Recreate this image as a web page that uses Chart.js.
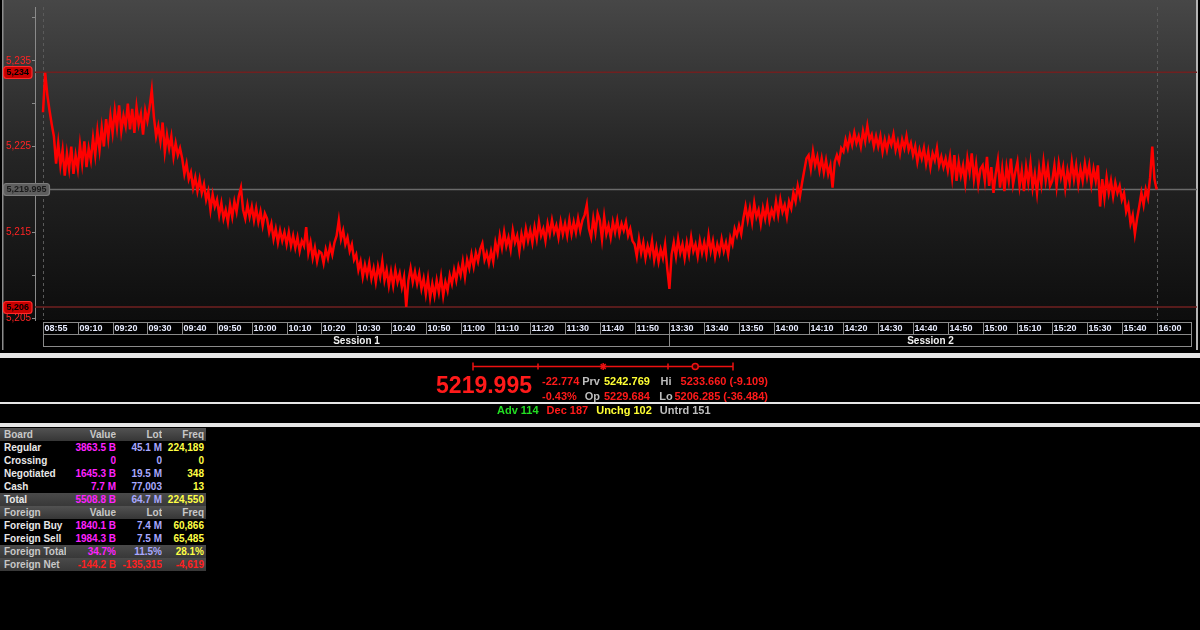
<!DOCTYPE html>
<html>
<head>
<meta charset="utf-8">
<script src="https://cdn.jsdelivr.net/npm/chart.js@4.4.0/dist/chart.umd.min.js"></script>
<style>
  body { margin: 0; background: #000; }
  #wrap { position: relative; width: 1200px; height: 630px; overflow: hidden; background: #000;
          font-family: 'Liberation Sans', Arial, sans-serif; font-weight: bold; }
  #wrap > * { position: absolute; }
  .band { left: 0; width: 1200px; background: #e6e6e6; }
  .txt { font-size: 11px; line-height: 13px; white-space: nowrap; }
  .r { text-align: right; }
  .c { text-align: center; }
  .red { color: #ff1a1a; }
  .grey { color: #bdbdbd; }
  .yel { color: #ffff33; }
  #board { left: 0; top: 428px; width: 206px; border-collapse: collapse; table-layout: fixed;
           font: bold 10px 'Liberation Sans', Arial, sans-serif; }
  #board td { height: 13px; padding: 0; line-height: 13px; white-space: nowrap; overflow: hidden; }
  #board td.lbl { padding-left: 4px; color: #e8e8e8; }
  #board td.num { text-align: right; }
  #board td.last { padding-right: 2px; }
  #board tr.hdr { background: linear-gradient(#525252, #363636); }
  #board tr.hdr td { color: #c8c8c8; }
  #board tr.sum { background: linear-gradient(#4a4a4a, #383838); }
  #board tr.sum2 td.lbl { color: #c8c8c8; }
  .cv { color: #ff22ff; }
  .cl { color: #a8a8ff; }
  .cf { color: #ffff44; }
  .cn { color: #ff2020; }
</style>
</head>
<body>
<div id="wrap">
  <canvas id="chart" width="1200" height="352" style="left:0;top:0"></canvas>
  <div class="band" style="top:353px;height:5px"></div>
  <canvas id="range" width="1200" height="18" style="left:0;top:358px"></canvas>

  <div id="last" class="red" style="left:400px;width:132px;top:374px;font-size:23px;line-height:23px;text-align:right"></div>
  <div id="chg" class="txt red" style="left:542px;top:375px"></div>
  <div id="chgPct" class="txt red" style="left:542px;top:390px"></div>
  <div class="txt grey r" style="left:570px;width:30px;top:375px">Prv</div>
  <div class="txt grey r" style="left:570px;width:30px;top:390px">Op</div>
  <div id="prv" class="txt yel" style="left:604px;top:375px"></div>
  <div id="opn" class="txt red" style="left:604px;top:390px"></div>
  <div class="txt grey c" style="left:652px;width:28px;top:375px">Hi</div>
  <div class="txt grey c" style="left:652px;width:28px;top:390px">Lo</div>
  <div id="hi" class="txt red r" style="left:660px;width:108px;top:375px"></div>
  <div id="lo" class="txt red r" style="left:660px;width:108px;top:390px"></div>

  <div class="band" style="top:402px;height:1.5px"></div>
  <div id="breadth" class="txt" style="left:497px;top:404px"></div>
  <div class="band" style="top:423px;height:4px"></div>

  <table id="board">
    <colgroup><col style="width:66px"><col style="width:50px"><col style="width:46px"><col style="width:44px"></colgroup>
    <tbody id="boardBody"></tbody>
  </table>
</div>

<script>
// axis labels
const timeLabels = ['08:55', '09:10', '09:20', '09:30', '09:40', '09:50', '10:00', '10:10', '10:20',
  '10:30', '10:40', '10:50', '11:00', '11:10', '11:20', '11:30', '11:40', '11:50',
  '13:30', '13:40', '13:50', '14:00', '14:10', '14:20', '14:30', '14:40', '14:50',
  '15:00', '15:10', '15:20', '15:30', '15:40', '16:00'];
const sessionNames = ['Session 1', 'Session 2'];
const sessionStart = [0, 18];
const sessionEnd = [18, 33];
const yTickValues = [5205, 5210, 5215, 5220, 5225, 5230, 5235, 5240];
const yTickLabels = ['5,205', '', '5,215', '', '5,225', '', '5,235', ''];

// index readings, 16 per label slot
const samplesPerSlot = 16;
const session1Values = [
  5229.0, 5233.6, 5231.0, 5229.2, 5227.6, 5226.2, 5223.0, 5225.4, 5222.8, 5224.6, 5221.6, 5224.2, 5222.4, 5225.0, 5221.8, 5224.0,
  5222.4, 5225.2, 5223.0, 5225.6, 5222.6, 5224.8, 5223.4, 5226.0, 5224.0, 5226.8, 5224.6, 5227.2, 5225.0, 5228.2, 5226.0, 5228.6,
  5226.6, 5229.2, 5227.2, 5229.8, 5226.8, 5228.6, 5227.4, 5230.0, 5227.0, 5229.4, 5226.6, 5229.6, 5227.6, 5228.8, 5226.4, 5229.2,
  5228.0, 5229.6, 5231.6, 5228.4, 5226.2, 5227.4, 5225.6, 5227.8, 5224.4, 5226.4, 5224.8, 5226.2, 5223.8, 5225.4, 5224.0, 5224.8,
  5223.6, 5221.8, 5223.0, 5221.2, 5222.0, 5220.2, 5221.4, 5219.8, 5221.2, 5219.6, 5220.6, 5218.8, 5219.8, 5217.6, 5219.4, 5218.0,
  5218.8, 5217.0, 5218.4, 5216.6, 5217.6, 5216.2, 5218.2, 5216.8, 5218.6, 5217.4, 5219.2, 5220.2, 5217.6, 5216.6, 5218.2, 5216.8,
  5218.0, 5216.4, 5217.8, 5216.2, 5217.4, 5215.8, 5217.2, 5216.6, 5215.0, 5216.0, 5214.2, 5215.4, 5213.8, 5215.2, 5214.0, 5215.0,
  5213.6, 5215.0, 5213.4, 5214.6, 5213.2, 5214.4, 5212.8, 5214.0, 5213.4, 5215.6, 5212.6, 5213.8, 5212.0, 5213.2, 5211.6, 5212.8,
  5212.6, 5211.4, 5213.0, 5212.0, 5213.4, 5212.4, 5213.8, 5214.6, 5216.4, 5214.2, 5215.2, 5213.6, 5214.4, 5212.8, 5213.6, 5211.8,
  5212.4, 5210.6, 5211.6, 5209.8, 5211.2, 5210.0, 5211.4, 5209.6, 5210.8, 5209.2, 5211.0, 5209.8, 5211.6, 5209.4, 5210.6, 5208.8,
  5210.4, 5208.8, 5210.6, 5209.2, 5210.2, 5208.6, 5209.8, 5206.3, 5209.4, 5210.8, 5209.2, 5210.4, 5209.0, 5210.2, 5208.4, 5209.6,
  5207.8, 5209.6, 5207.4, 5209.0, 5207.6, 5209.4, 5208.0, 5209.8, 5207.6, 5209.2, 5208.2, 5210.0, 5209.0, 5210.6, 5209.4, 5211.0,
  5210.0, 5211.6, 5209.8, 5211.8, 5210.8, 5212.4, 5211.0, 5212.6, 5211.6, 5213.0, 5213.7, 5211.8, 5212.6, 5211.4, 5212.8, 5211.6,
  5213.8, 5212.6, 5214.6, 5213.2, 5215.0, 5213.4, 5214.4, 5213.0, 5215.2, 5213.8, 5214.6, 5212.8, 5214.8, 5213.6, 5215.4, 5214.0,
  5215.2, 5213.8, 5215.6, 5214.2, 5216.2, 5214.6, 5215.4, 5214.0, 5216.0, 5214.8, 5216.4, 5215.0, 5215.8, 5214.4, 5216.2, 5214.8,
  5216.0, 5214.6, 5216.4, 5214.8, 5216.2, 5215.0, 5216.6, 5215.2, 5216.4, 5217.0, 5218.2, 5215.4, 5214.4, 5216.6, 5215.0, 5217.2,
  5216.4, 5214.2, 5216.8, 5214.8, 5215.8, 5214.4, 5216.2, 5215.0, 5216.4, 5214.8, 5216.0, 5215.2, 5216.2, 5214.6, 5215.4, 5214.0,
  5213.6, 5212.2, 5214.2, 5212.6, 5213.8, 5212.0, 5213.4, 5212.4, 5214.0, 5211.8, 5213.2, 5211.6, 5213.0, 5212.0, 5213.6, 5210.8
];
const session2Values = [
  5208.4, 5212.4, 5213.8, 5212.2, 5214.2, 5212.6, 5213.6, 5212.0, 5213.8, 5212.4, 5214.4, 5212.8, 5213.6, 5212.2, 5214.0, 5212.6,
  5213.8, 5212.4, 5214.6, 5212.8, 5214.0, 5212.2, 5213.6, 5212.6, 5214.2, 5212.8, 5213.8, 5212.4, 5214.4, 5213.6, 5215.4, 5214.6,
  5215.8, 5214.8, 5216.6, 5218.0, 5216.4, 5217.8, 5216.2, 5218.4, 5216.8, 5217.6, 5216.0, 5217.8, 5216.6, 5218.2, 5216.4, 5217.6,
  5216.8, 5218.6, 5217.0, 5218.8, 5217.4, 5218.2, 5216.8, 5218.6, 5217.8, 5219.6, 5218.6, 5220.4, 5219.2, 5220.8, 5222.2, 5223.6,
  5224.0, 5222.4, 5224.4, 5222.8, 5223.8, 5222.2, 5223.6, 5222.0, 5223.4, 5221.8, 5222.8, 5220.2, 5223.2, 5224.0, 5223.2, 5224.8,
  5224.4, 5225.8, 5224.8, 5226.2, 5225.2, 5226.6, 5225.4, 5226.2, 5225.0, 5226.8, 5225.6, 5227.4, 5225.8, 5226.4, 5225.0, 5226.2,
  5225.0, 5226.2, 5224.4, 5225.8, 5224.6, 5226.0, 5225.2, 5226.4, 5224.6, 5225.6, 5224.2, 5225.8, 5224.8, 5226.2, 5224.6, 5225.4,
  5224.0, 5225.0, 5223.2, 5224.6, 5223.6, 5224.8, 5223.0, 5224.4, 5222.6, 5224.2, 5223.4, 5224.8, 5222.8, 5223.8, 5222.6, 5223.6,
  5222.2, 5223.8, 5221.4, 5224.0, 5221.0, 5223.2, 5221.6, 5222.8, 5220.8, 5223.6, 5222.0, 5224.2, 5221.2, 5223.0, 5220.6, 5222.4,
  5222.8, 5221.0, 5223.8, 5220.4, 5222.6, 5219.6, 5221.8, 5223.4, 5220.2, 5222.4, 5219.8, 5222.6, 5221.0, 5223.6, 5220.6, 5222.0,
  5223.2, 5220.4, 5222.2, 5219.8, 5222.6, 5220.8, 5223.0, 5220.2, 5221.8, 5219.6, 5222.4, 5220.6, 5223.2, 5221.0, 5222.6, 5220.4,
  5221.0, 5222.8, 5220.4, 5223.0, 5221.4, 5222.6, 5220.2, 5222.2, 5220.8, 5223.2, 5221.2, 5222.8, 5220.6, 5222.4, 5221.0, 5223.0,
  5221.4, 5222.8, 5220.6, 5222.4, 5221.0, 5222.8, 5218.0, 5221.2, 5219.0, 5221.4, 5219.6, 5221.0, 5219.2, 5220.8, 5219.6, 5220.4,
  5218.8, 5219.6, 5217.4, 5218.2, 5216.0, 5217.0, 5214.8, 5216.6, 5218.0, 5219.6, 5218.2, 5220.0, 5219.0, 5221.4, 5225.0, 5221.2
];

// summary
const lastPrice = 5219.995;
const prevClose = 5242.769;
const openPrice = 5229.684;
const highPrice = 5233.660;
const lowPrice = 5206.285;
const breadthNames = ['Adv', 'Dec', 'Unchg', 'Untrd'];
const breadthCounts = [114, 187, 102, 151];
const breadthColors = ['#22dd22', '#ff1a1a', '#ffff33', '#bdbdbd'];

// board table
const boardNames = ['Regular', 'Crossing', 'Negotiated', 'Cash'];
const boardValue = ['3863.5 B', '0', '1645.3 B', '7.7 M'];
const boardLot = ['45.1 M', '0', '19.5 M', '77,003'];
const boardFreq = ['224,189', '0', '348', '13'];
const boardTotal = ['5508.8 B', '64.7 M', '224,550'];
const foreignNames = ['Foreign Buy', 'Foreign Sell'];
const foreignValue = ['1840.1 B', '1984.3 B'];
const foreignLot = ['7.4 M', '7.5 M'];
const foreignFreq = ['60,866', '65,485'];
const foreignTotal = ['34.7%', '11.5%', '28.1%'];
const foreignNet = ['-144.2 B', '-135,315', '-4,619'];

const fmt = v => v.toLocaleString('en-US', { minimumFractionDigits: 3, maximumFractionDigits: 3 });
const fmtAxis = v => v.toLocaleString('en-US', { maximumFractionDigits: 0 });

const priceValues = session1Values.concat(session2Values, [lastPrice]);
const points = priceValues.map((v, i) => ({ x: i / samplesPerSlot, y: v }));

const panelPlugin = {
  id: 'panel',
  beforeDraw(chart) {
    const { ctx, chartArea } = chart;
    ctx.save();
    ctx.fillStyle = '#000';
    ctx.fillRect(0, 0, chart.width, chart.height);
    const g = ctx.createLinearGradient(0, 0, 0, chartArea.bottom);
    g.addColorStop(0, '#474747');
    g.addColorStop(0.5, '#242424');
    g.addColorStop(1, '#0d0d0d');
    ctx.fillStyle = g;
    ctx.fillRect(3, 0, 1194, chartArea.bottom);
    ctx.fillStyle = '#8c8c8c';
    ctx.fillRect(2, 0, 1.5, 350);
    ctx.fillStyle = '#b4b4b4';
    ctx.fillRect(1196, 0, 2, 350);
    ctx.restore();
  },
  beforeDatasetsDraw(chart) {
    const { ctx, chartArea, scales: { x, y } } = chart;
    ctx.save();
    ctx.setLineDash([3, 3]);
    ctx.strokeStyle = '#5a5a5a';
    ctx.lineWidth = 1;
    [0, timeLabels.length - 1].forEach(i => {
      const px = Math.round(x.getPixelForValue(i)) + 0.5;
      ctx.beginPath(); ctx.moveTo(px, chartArea.top); ctx.lineTo(px, chartArea.bottom); ctx.stroke();
    });
    ctx.setLineDash([]);
    const hline = (v, col, w) => {
      const py = y.getPixelForValue(v);
      ctx.strokeStyle = col; ctx.lineWidth = w;
      ctx.beginPath(); ctx.moveTo(chartArea.left, py); ctx.lineTo(chartArea.right, py); ctx.stroke();
    };
    hline(highPrice, '#702020', 1.5);
    hline(lowPrice, '#702020', 1.5);
    hline(lastPrice, '#6a6a6a', 1.5);
    ctx.restore();
  },
  afterDraw(chart) {
    const { ctx, chartArea, scales: { x, y } } = chart;
    ctx.save();
    // time cells
    const rowTop = chartArea.bottom + 2.5;
    ctx.strokeStyle = '#8a8a8a';
    ctx.lineWidth = 1;
    ctx.font = "bold 9px 'Liberation Sans', Arial, sans-serif";
    ctx.textBaseline = 'middle';
    timeLabels.forEach((lab, i) => {
      const x0 = Math.round(x.getPixelForValue(i)) + 0.5;
      const x1 = Math.round(x.getPixelForValue(i + 1)) + 0.5;
      ctx.strokeRect(x0, rowTop, x1 - x0, 12);
      ctx.fillStyle = '#e8ecff';
      ctx.textAlign = 'left';
      ctx.fillText(lab, x0 + 1, rowTop + 6.5);
    });
    // session cells
    ctx.font = "bold 10px 'Liberation Sans', Arial, sans-serif";
    sessionNames.forEach((name, i) => {
      const x0 = Math.round(x.getPixelForValue(sessionStart[i])) + 0.5;
      const x1 = Math.round(x.getPixelForValue(sessionEnd[i])) + 0.5;
      ctx.strokeRect(x0, rowTop + 12, x1 - x0, 12);
      ctx.fillStyle = '#f0f0f0';
      ctx.textAlign = 'center';
      ctx.fillText(name, (x0 + x1) / 2, rowTop + 18.5);
    });
    // value tags on the price axis
    const tag = (v, text, fill, stroke, color, w) => {
      const py = y.getPixelForValue(v);
      ctx.beginPath();
      ctx.roundRect(3.5, Math.round(py) - 5.5, w, 12, 3);
      ctx.fillStyle = fill; ctx.fill();
      ctx.strokeStyle = stroke; ctx.lineWidth = 1.2; ctx.stroke();
      ctx.fillStyle = color;
      ctx.font = "bold 9px 'Liberation Sans', Arial, sans-serif";
      ctx.textAlign = 'center';
      ctx.fillText(text, 3.5 + w / 2, Math.round(py) + 1);
    };
    tag(highPrice, fmtAxis(Math.round(highPrice)), '#c80000', '#ff2a2a', '#000', 28.5);
    tag(lowPrice, fmtAxis(Math.round(lowPrice)), '#c80000', '#ff2a2a', '#000', 28.5);
    tag(lastPrice, fmt(lastPrice), '#5e5e5e', '#7c7c7c', '#1a1a1a', 46);
    ctx.restore();
  }
};

new Chart(document.getElementById('chart'), {
  type: 'line',
  data: {
    datasets: [{
      data: points,
      borderColor: '#ff0000',
      borderWidth: 2.5,
      pointRadius: 0,
      tension: 0
    }]
  },
  options: {
    responsive: false,
    animation: false,
    layout: { padding: { left: 0, right: 3, top: 0, bottom: 32 } },
    plugins: { legend: { display: false }, tooltip: { enabled: false } },
    scales: {
      x: { type: 'linear', min: -0.23, max: 33.16, display: false },
      y: {
        min: 5204.77,
        max: 5241.27,
        afterFit: s => { s.width = 35; },
        afterBuildTicks: s => { s.ticks = yTickValues.map(v => ({ value: v })); },
        grid: { drawOnChartArea: false, drawTicks: true, tickLength: 3, color: '#8a8a8a' },
        border: { display: true, color: '#8a8a8a' },
        ticks: {
          color: '#ff2424',
          padding: 1,
          autoSkip: false,
          font: { family: "'Liberation Sans', Arial, sans-serif", size: 10 },
          callback: v => yTickLabels[yTickValues.indexOf(v)]
        }
      }
    }
  },
  plugins: [panelPlugin]
});

// range bar: low .. high with last and open marks
(function drawRange() {
  const c = document.getElementById('range').getContext('2d');
  const left = 473, right = 733, cy = 8.5;
  const pos = v => left + (v - lowPrice) / (highPrice - lowPrice) * (right - left);
  c.strokeStyle = '#ee1111';
  c.lineWidth = 1.5;
  c.beginPath(); c.moveTo(left, cy); c.lineTo(right, cy); c.stroke();
  [[0, 4], [0.25, 3], [0.75, 3], [1, 4]].forEach(([f, h]) => {
    const px = left + f * (right - left);
    c.beginPath(); c.moveTo(px, cy - h); c.lineTo(px, cy + h); c.stroke();
  });
  const sx = pos(lastPrice);
  for (let k = 0; k < 4; k++) {
    const a = k * Math.PI / 4;
    c.beginPath();
    c.moveTo(sx - 3.5 * Math.cos(a), cy - 3.5 * Math.sin(a));
    c.lineTo(sx + 3.5 * Math.cos(a), cy + 3.5 * Math.sin(a));
    c.stroke();
  }
  const ox = pos(openPrice);
  c.beginPath(); c.arc(ox, cy, 3, 0, Math.PI * 2);
  c.fillStyle = '#300'; c.fill(); c.stroke();
})();

// quote texts
document.getElementById('last').textContent = lastPrice.toFixed(3);
const chg = lastPrice - prevClose;
document.getElementById('chg').textContent = chg.toFixed(3);
document.getElementById('chgPct').textContent = (chg / prevClose * 100).toFixed(2) + '%';
document.getElementById('prv').textContent = prevClose.toFixed(3);
document.getElementById('opn').textContent = openPrice.toFixed(3);
document.getElementById('hi').textContent = highPrice.toFixed(3) + ' (' + (highPrice - prevClose).toFixed(3) + ')';
document.getElementById('lo').textContent = lowPrice.toFixed(3) + ' (' + (lowPrice - prevClose).toFixed(3) + ')';
document.getElementById('breadth').innerHTML = breadthNames.map((n, i) =>
  '<span style="color:' + breadthColors[i] + ';margin-right:8px">' + n + ' ' + breadthCounts[i] + '</span>').join('');

// board table
const body = document.getElementById('boardBody');
const addRow = (cls, cells, colCls) => {
  const tr = document.createElement('tr');
  if (cls) tr.className = cls;
  cells.forEach((t, i) => {
    const td = document.createElement('td');
    td.textContent = t;
    td.className = i === 0 ? 'lbl' : 'num ' + (colCls ? colCls[i - 1] : '') + (i === 3 ? ' last' : '');
    tr.appendChild(td);
  });
  body.appendChild(tr);
};
const cols = ['cv', 'cl', 'cf'];
addRow('hdr', ['Board', 'Value', 'Lot', 'Freq']);
boardNames.forEach((n, i) => addRow('', [n, boardValue[i], boardLot[i], boardFreq[i]], cols));
addRow('sum', ['Total'].concat(boardTotal), cols);
addRow('hdr', ['Foreign', 'Value', 'Lot', 'Freq']);
foreignNames.forEach((n, i) => addRow('', [n, foreignValue[i], foreignLot[i], foreignFreq[i]], cols));
addRow('sum sum2', ['Foreign Total'].concat(foreignTotal), cols);
addRow('sum sum2', ['Foreign Net'].concat(foreignNet), ['cn', 'cn', 'cn']);
</script>
</body>
</html>
